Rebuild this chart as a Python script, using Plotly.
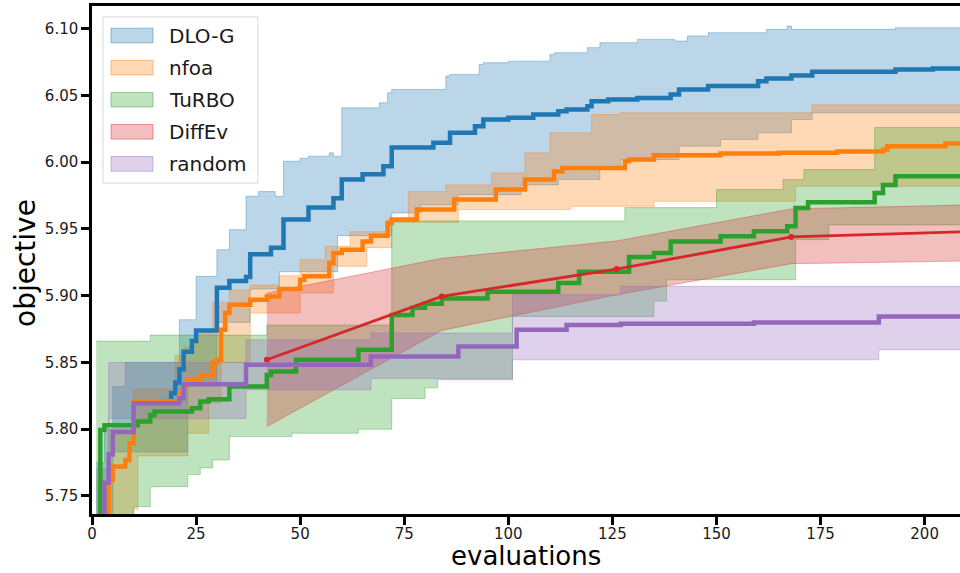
import plotly.graph_objects as go

# ---------------- data ----------------
methods = ["DLO-G", "nfoa", "TuRBO", "DiffEv", "random"]
colors = ["31,119,180", "255,127,14", "44,160,44", "214,39,40", "148,103,189"]

# DLO-G (step breakpoints)
dlo_x = [10, 19, 20, 21, 22, 24, 25, 30, 33, 37, 38, 43, 46, 52, 58, 60, 65, 70, 72, 82, 86, 92, 94, 100, 106,
         112, 114, 119, 120, 124, 131, 139, 141, 148, 160, 162, 168, 173, 193, 202, 210]
dlo_mean = [5.820, 5.827, 5.835, 5.845, 5.858, 5.866, 5.874, 5.906, 5.911, 5.914, 5.931, 5.936, 5.957, 5.966,
            5.973, 5.987, 5.991, 5.997, 6.011, 6.0145, 6.022, 6.027, 6.032, 6.0333, 6.0357, 6.0382, 6.0395,
            6.042, 6.0457, 6.047, 6.048, 6.0507, 6.0545, 6.057, 6.0607, 6.0627, 6.065, 6.0677, 6.0695, 6.0702,
            6.0702]
dlo_hi_x = [1, 3, 5, 8, 21, 25, 30, 33, 37, 40, 44, 46, 50, 52, 57, 58, 60, 66, 69, 71, 72, 85, 86, 93, 94, 100,
            110, 111, 119, 122, 131, 140, 143, 148, 162, 167, 168, 193, 210]
dlo_hi = [5.775, 5.800, 5.832, 5.850, 5.882, 5.9145, 5.9345, 5.9495, 5.9745, 5.978, 5.9745, 6.0007, 6.003,
          6.0045, 6.007, 6.0045, 6.0407, 6.0407, 6.0445, 6.052, 6.0545, 6.0645, 6.0657, 6.0732, 6.0745, 6.0757,
          6.0807, 6.082, 6.0858, 6.0895, 6.092, 6.0907, 6.0945, 6.097, 6.0995, 6.102, 6.0995, 6.1007, 6.1007]
dlo_lo_x = [1, 5, 23, 30, 38, 45, 59, 72, 79, 88, 103, 112, 122, 127, 141, 151, 160, 168, 173, 210]
dlo_lo = [5.700, 5.783, 5.835, 5.880, 5.905, 5.918, 5.945, 5.962, 5.968, 5.9757, 5.983, 5.987, 5.9945, 6.002,
          6.012, 6.017, 6.022, 6.032, 6.037, 6.037]

# nfoa
nfoa_x = [3, 4, 5, 8, 9, 10, 21, 22, 23, 26, 29, 30, 31, 32, 33, 38, 42, 45, 50, 51, 57, 58, 60, 65, 67, 71, 72,
          78, 87, 97, 104, 111, 113, 128, 129, 135, 151, 165, 179, 190, 191, 205, 210]
nfoa_mean = [5.700, 5.762, 5.772, 5.777, 5.7895, 5.821, 5.827, 5.833, 5.837, 5.840, 5.850, 5.852, 5.8745, 5.887,
             5.8932, 5.897, 5.8995, 5.905, 5.912, 5.9145, 5.9245, 5.932, 5.9345, 5.9407, 5.945, 5.9545, 5.957,
             5.9645, 5.972, 5.9795, 5.987, 5.993, 5.9957, 6.0007, 6.002, 6.0052, 6.0065, 6.007, 6.008, 6.0095,
             6.012, 6.014, 6.014]
nfoa_hi_x = [4, 10, 20, 22, 25, 29, 33, 38, 45, 50, 56, 62, 71, 76, 85, 96, 104, 110, 120, 127, 173, 210]
nfoa_hi = [5.800, 5.830, 5.855, 5.862, 5.872, 5.895, 5.9045, 5.908, 5.915, 5.927, 5.937, 5.948, 5.957, 5.978,
           5.983, 5.992, 6.007, 6.022, 6.0357, 6.037, 6.043, 6.043]
nfoa_lo_x = [4, 10, 11, 23, 28, 31, 38, 50, 58, 66, 72, 88, 115, 135, 169, 210]
nfoa_lo = [5.700, 5.740, 5.780, 5.797, 5.820, 5.850, 5.887, 5.902, 5.922, 5.936, 5.955, 5.9645, 5.967, 5.9707,
           5.982, 5.982]

# TuRBO
turbo_x = [1, 2, 3, 11, 14, 15, 24, 26, 28, 33, 42, 43, 49, 64, 72, 77, 80, 84, 95, 112, 117, 129, 135, 139, 151,
           159, 167, 169, 172, 188, 190, 193, 210]
turbo_mean = [5.700, 5.7995, 5.803, 5.8057, 5.8107, 5.8132, 5.8157, 5.8207, 5.8225, 5.832, 5.8407, 5.8432, 5.852,
              5.8595, 5.8855, 5.891, 5.894, 5.898, 5.903, 5.9095, 5.918, 5.929, 5.932, 5.9407, 5.9445, 5.9482,
              5.952, 5.9657, 5.970, 5.977, 5.983, 5.9895, 5.9895]
turbo_hi_x = [1, 14, 42, 72, 128, 150, 166, 171, 188, 210]
turbo_hi = [5.866, 5.8705, 5.878, 5.956, 5.966, 5.9795, 5.987, 5.9945, 6.026, 6.026]
turbo_lo_x = [1, 10, 14, 23, 26, 29, 33, 48, 64, 72, 80, 83, 101, 135, 138, 169, 177, 210]
turbo_lo = [5.700, 5.742, 5.757, 5.766, 5.771, 5.777, 5.7945, 5.797, 5.800, 5.823, 5.831, 5.837, 5.8845, 5.896,
            5.912, 5.942, 5.953, 5.953]

# DiffEv (one point per generation)
diffev_x = [42, 84, 126, 168, 210]
diffev_mean = [5.852, 5.8995, 5.920, 5.944, 5.948]
diffev_hi = [5.902, 5.928, 5.941, 5.965, 5.968]
diffev_lo = [5.802, 5.874, 5.9007, 5.924, 5.926]

# random
rand_x = [2, 3, 4, 5, 10, 21, 22, 37, 67, 88, 102, 114, 127, 159, 189, 210]
rand_mean = [5.700, 5.760, 5.781, 5.798, 5.8195, 5.8232, 5.8337, 5.8482, 5.8545, 5.862, 5.8745, 5.878, 5.879,
             5.880, 5.8845, 5.8845]
rand_hi_x = [1, 4, 37, 67, 101, 127, 210]
rand_hi = [5.770, 5.850, 5.867, 5.872, 5.9007, 5.907, 5.907]
rand_lo_x = [1, 4, 37, 67, 101, 189, 210]
rand_lo = [5.700, 5.808, 5.8295, 5.838, 5.852, 5.8595, 5.8595]

x_ticks = [0, 25, 50, 75, 100, 125, 150, 175, 200]
y_ticks = [5.75, 5.80, 5.85, 5.90, 5.95, 6.00, 6.05, 6.10]

series = [
    (dlo_x, dlo_mean, dlo_lo_x, dlo_lo, dlo_hi_x, dlo_hi, "hv"),
    (nfoa_x, nfoa_mean, nfoa_lo_x, nfoa_lo, nfoa_hi_x, nfoa_hi, "hv"),
    (turbo_x, turbo_mean, turbo_lo_x, turbo_lo, turbo_hi_x, turbo_hi, "hv"),
    (diffev_x, diffev_mean, diffev_x, diffev_lo, diffev_x, diffev_hi, "linear"),
    (rand_x, rand_mean, rand_lo_x, rand_lo, rand_hi_x, rand_hi, "hv"),
]

FONT = "DejaVu Sans"
fig = go.Figure()

# bands
for (mx, my, lx, ly, hx, hy, shape), c in zip(series, colors):
    fig.add_trace(go.Scatter(x=lx, y=ly, mode="lines", line=dict(color=f"rgba({c},0.35)", width=1, shape=shape),
                             showlegend=False, hoverinfo="skip"))
    fig.add_trace(go.Scatter(x=hx, y=hy, mode="lines", fill="tonexty", fillcolor=f"rgba({c},0.3)",
                             line=dict(color=f"rgba({c},0.35)", width=1, shape=shape),
                             showlegend=False, hoverinfo="skip"))

# mean lines
for (mx, my, lx, ly, hx, hy, shape), c, name in zip(series, colors, methods):
    if shape == "hv":
        fig.add_trace(go.Scatter(x=mx, y=my, mode="lines", name=name,
                                 line=dict(color=f"rgb({c})", width=4.5, shape="hv"), showlegend=False))
    else:
        fig.add_trace(go.Scatter(x=mx, y=my, mode="lines+markers", name=name,
                                 line=dict(color=f"rgb({c})", width=2.8), marker=dict(size=6, color=f"rgb({c})"),
                                 showlegend=False))

# plot-area geometry in pixels
L, R, T, B = 92, 0, 6, 59
W, H = 960 - L - R, 573 - T - B


def xp(px):
    return (px - L) / W


def yp(py):
    return (573 - B - py) / H


shapes = []
annotations = []
# manual legend
shapes.append(dict(type="rect", xref="paper", yref="paper", x0=xp(103), x1=xp(258), y0=yp(183), y1=yp(17),
                   line=dict(color="rgb(215,215,215)", width=1), fillcolor="rgba(255,255,255,0.85)", layer="above"))
for i, (name, c) in enumerate(zip(methods, colors)):
    cy = 35.5 + i * 32.1
    shapes.append(dict(type="rect", xref="paper", yref="paper", x0=xp(111), x1=xp(153), y0=yp(cy + 7.3),
                       y1=yp(cy - 7.3), line=dict(color=f"rgba({c},0.45)", width=1), fillcolor=f"rgba({c},0.3)",
                       layer="above"))
    annotations.append(dict(text=name, xref="paper", yref="paper", x=xp(167), y=yp(cy + 0.5), xanchor="left",
                            yanchor="middle", showarrow=False, font=dict(family=FONT, size=20, color="#1a1a1a")))

annotations.append(dict(text="evaluations", xref="paper", yref="paper", x=xp(526), y=yp(573), xanchor="center",
                        yanchor="bottom", showarrow=False, font=dict(family=FONT, size=26, color="black")))
annotations.append(dict(text="objective", xref="paper", yref="paper", x=xp(25), y=yp(263), xanchor="center",
                        yanchor="middle", textangle=-90, showarrow=False,
                        font=dict(family=FONT, size=28, color="black")))

fig.update_layout(
    width=960, height=573,
    margin=dict(l=L, r=R, t=T, b=B),
    plot_bgcolor="white", paper_bgcolor="white",
    shapes=shapes, annotations=annotations,
    showlegend=False,
    xaxis=dict(range=[0, 208.5], tickvals=x_ticks, ticks="outside", ticklen=8, tickwidth=2.5, tickcolor="black",
               showline=True, linewidth=2.5, linecolor="black", mirror=True, showgrid=False, zeroline=False,
               ticklabelstandoff=-4,
               tickfont=dict(family=FONT, size=15, color="#1a1a1a")),
    yaxis=dict(range=[5.7365, 6.117], tickvals=y_ticks, tickformat=".2f", ticks="outside", ticklen=8,
               tickwidth=2.5, tickcolor="black", showline=True, linewidth=2.5, linecolor="black", showgrid=False,
               zeroline=False, tickfont=dict(family=FONT, size=15, color="#1a1a1a")),
)

fig.write_html("out.html")
